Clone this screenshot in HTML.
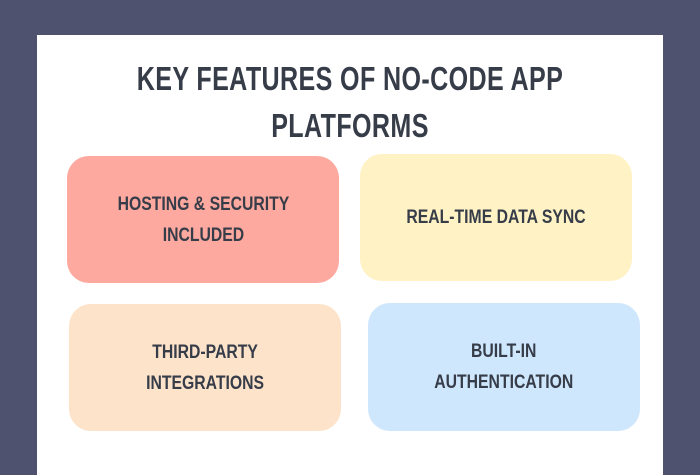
<!DOCTYPE html>
<html><head><style>
body{margin:0;width:700px;height:467px;background:#4f526f;position:relative;overflow:hidden;font-family:"Liberation Sans",sans-serif;font-weight:bold;color:#363c48}
.panel{position:absolute;left:37px;top:35px;width:626px;height:440px;background:#fff}
.t{position:absolute;left:0;width:700px;text-align:center;font-size:33px;letter-spacing:0.5px;transform:scaleX(0.76);transform-origin:350px 0}
.b{position:absolute;width:272px;height:127px;border-radius:22px;display:flex;align-items:center;justify-content:center;text-align:center}
.b span{display:inline-block;font-size:19px;line-height:31px;transform:scaleX(0.83)}
</style></head><body>
<div class="panel"></div>
<div class="t" style="top:60px">KEY FEATURES OF NO-CODE APP</div>
<div class="t" style="top:107px">PLATFORMS</div>
<div class="b" style="left:67px;top:156px;background:#fda99f"><span>HOSTING &amp; SECURITY<br>INCLUDED</span></div>
<div class="b" style="left:360px;top:154px;background:#fff2c4"><span>REAL-TIME DATA SYNC</span></div>
<div class="b" style="left:69px;top:304px;background:#fde3ca"><span>THIRD-PARTY<br>INTEGRATIONS</span></div>
<div class="b" style="left:368px;top:303px;background:#cfe7fd;height:128px"><span>BUILT-IN<br>AUTHENTICATION</span></div>
</body></html>
